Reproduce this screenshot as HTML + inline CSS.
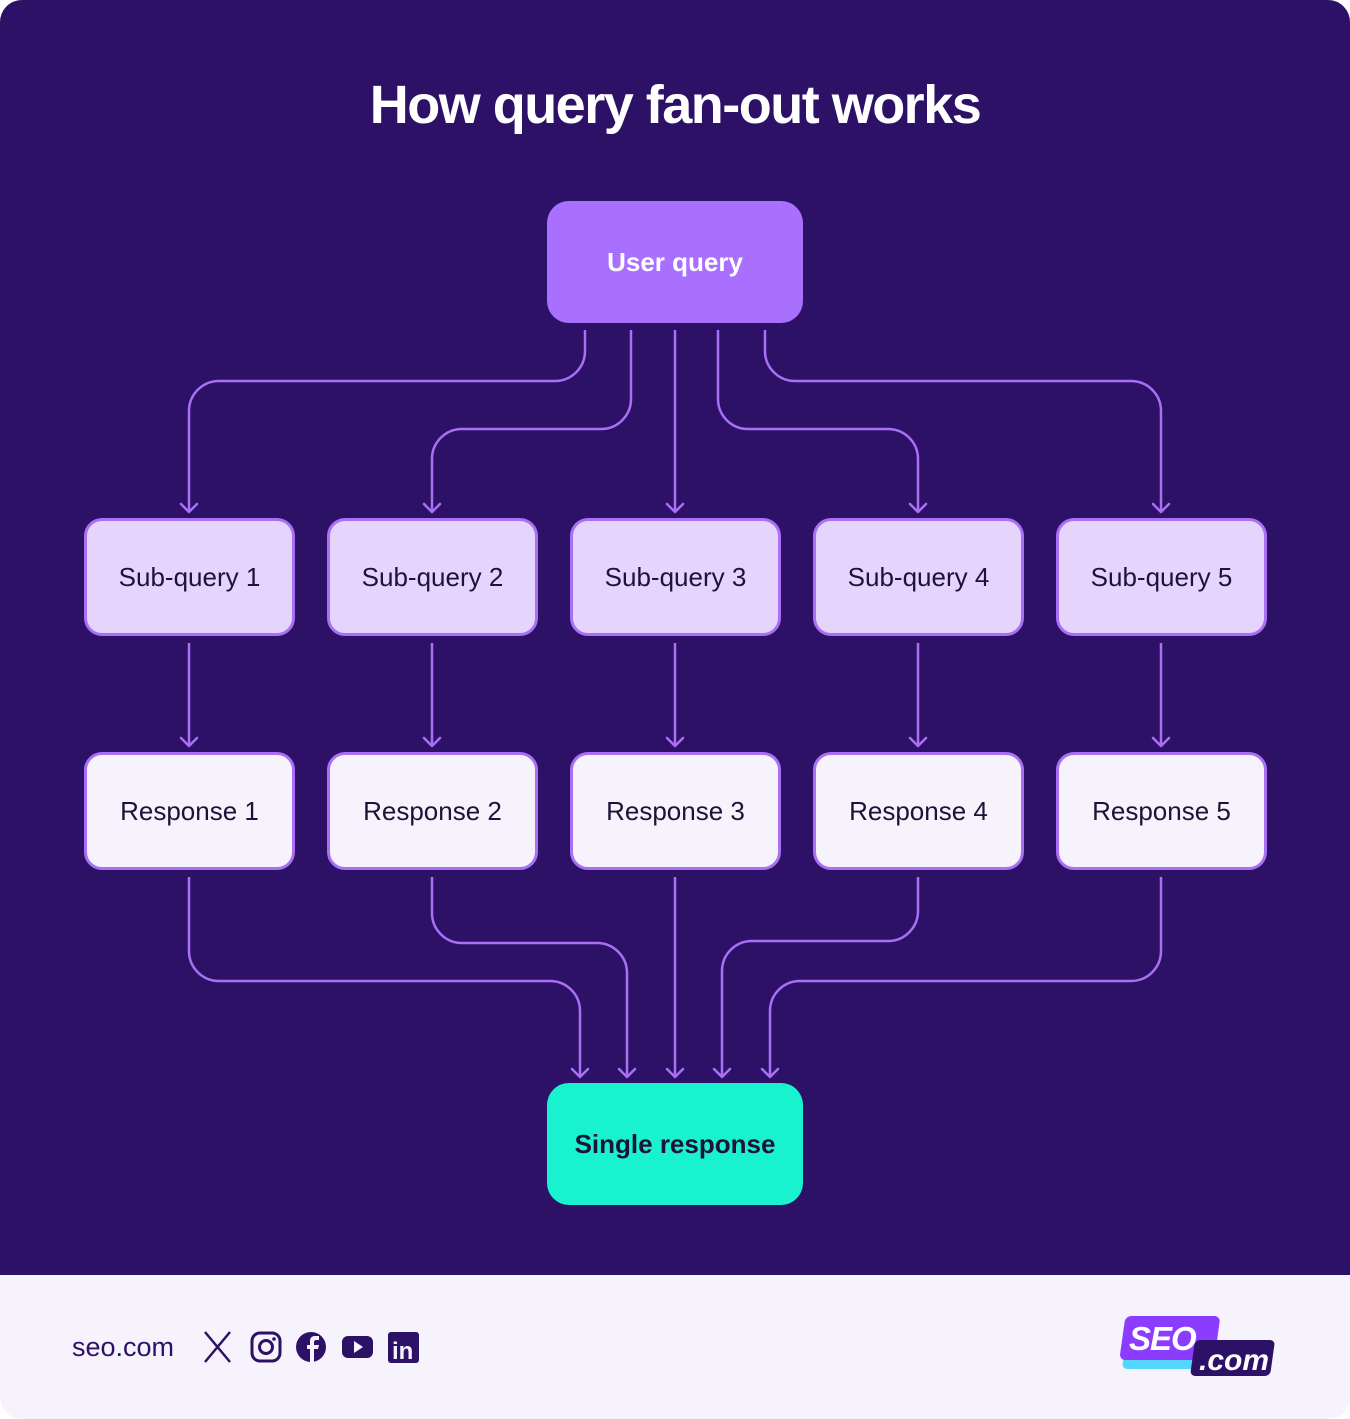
<!DOCTYPE html>
<html><head><meta charset="utf-8"><style>
html,body{margin:0;padding:0;background:#fff}
.wrap{position:relative;width:1350px;height:1419px;overflow:hidden;border-radius:22px;background:#f6f3fd;font-family:"Liberation Sans",sans-serif}
.top{position:absolute;left:0;top:0;width:1350px;height:1275px;background:#2d1166}
.t{position:absolute;left:0;width:1350px;text-align:center;top:74px;color:#fff;font-size:54px;font-weight:bold;letter-spacing:-1.5px}
.b{position:absolute;box-sizing:border-box;display:flex;align-items:center;justify-content:center;font-size:26px;color:#1d1238}
.sq{background:#e5d5fd;border:3px solid #a96ff5;border-radius:18px;width:211px;height:118px;top:518px}
.rs{background:#f6f3fd;border:3px solid #a96ff5;border-radius:18px;width:211px;height:118px;top:752px}
</style></head><body><div class="wrap">
<div class="top"></div>
<div class="t">How query fan-out works</div>
<svg style="position:absolute;left:0;top:0" width="1350" height="1419" fill="none" stroke="#a96ff5" stroke-width="2.5">
<path d="M585 330V351a30 30 0 0 1-30 30H219a30 30 0 0 0-30 30V512"/>
<path d="M631 330V399a30 30 0 0 1-30 30H462a30 30 0 0 0-30 30V512"/>
<path d="M675 330V512"/>
<path d="M718 330V399a30 30 0 0 0 30 30H888a30 30 0 0 1 30 30V512"/>
<path d="M765 330V351a30 30 0 0 0 30 30H1131a30 30 0 0 1 30 30V512"/>
<path d="M189 643V746M432 643V746M675 643V746M918 643V746M1161 643V746"/>
<path d="M189 877V951a30 30 0 0 0 30 30H550a30 30 0 0 1 30 30V1077"/>
<path d="M432 877V913a30 30 0 0 0 30 30H597a30 30 0 0 1 30 30V1077"/>
<path d="M675 877V1077"/>
<path d="M918 877V911a30 30 0 0 1-30 30H752a30 30 0 0 0-30 30V1077"/>
<path d="M1161 877V951a30 30 0 0 1-30 30H800a30 30 0 0 0-30 30V1077"/>
<g stroke-linecap="round" stroke-linejoin="round">
<path d="M181 504l8 8 8-8M424 504l8 8 8-8M667 504l8 8 8-8M910 504l8 8 8-8M1153 504l8 8 8-8"/>
<path d="M181 738l8 8 8-8M424 738l8 8 8-8M667 738l8 8 8-8M910 738l8 8 8-8M1153 738l8 8 8-8"/>
<path d="M572 1069l8 8 8-8M619 1069l8 8 8-8M667 1069l8 8 8-8M714 1069l8 8 8-8M762 1069l8 8 8-8"/>
</g>
</svg>
<div class="b" style="left:547px;top:201px;width:256px;height:122px;background:#a970ff;border-radius:22px;color:#fff;font-weight:bold;font-size:26px">User query</div>
<div class="b sq" style="left:84px">Sub-query 1</div>
<div class="b sq" style="left:327px">Sub-query 2</div>
<div class="b sq" style="left:570px">Sub-query 3</div>
<div class="b sq" style="left:813px">Sub-query 4</div>
<div class="b sq" style="left:1056px">Sub-query 5</div>
<div class="b rs" style="left:84px">Response 1</div>
<div class="b rs" style="left:327px">Response 2</div>
<div class="b rs" style="left:570px">Response 3</div>
<div class="b rs" style="left:813px">Response 4</div>
<div class="b rs" style="left:1056px">Response 5</div>
<div class="b" style="left:547px;top:1083px;width:256px;height:122px;background:#19f2cf;border-radius:22px;color:#1d1238;font-weight:bold">Single response</div>
<div style="position:absolute;left:72px;top:1332px;font-size:27px;color:#2d1166">seo.com</div>
<svg style="position:absolute;left:200px;top:1330px" width="225" height="34">
<path d="M5 2L30 32M30 2L5 32" stroke="#2d1166" stroke-width="2.5"/>
<rect x="52" y="3" width="28" height="28" rx="8" fill="none" stroke="#2d1166" stroke-width="3"/>
<circle cx="66" cy="17" r="6.5" fill="none" stroke="#2d1166" stroke-width="3"/>
<circle cx="74" cy="9" r="1.8" fill="#2d1166"/>
<circle cx="111" cy="17" r="15" fill="#2d1166"/>
<path d="M114 32V19h4l1-4h-5v-3c0-1 1-2 2-2h3V6h-4c-4 0-5 3-5 5v4h-3v4h3v13z" fill="#f6f3fd"/>
<rect x="142" y="6" width="31" height="22" rx="6" fill="#2d1166"/>
<path d="M154 11v12l9-6z" fill="#f6f3fd"/>
<rect x="188" y="2" width="31" height="31" rx="3" fill="#2d1166"/>
<text x="192" y="29" font-family="Liberation Sans" font-weight="bold" font-size="24" fill="#f6f3fd">in</text>
</svg>
<svg style="position:absolute;left:1115px;top:1312px" width="170" height="70">
<rect x="15" y="25" width="90" height="32" rx="5" fill="#55d6ff" transform="skewX(-8)"/>
<rect x="11" y="4" width="95" height="44" rx="6" fill="#8c3cff" transform="skewX(-8)"/>
<text x="14" y="38" font-family="Liberation Sans" font-weight="bold" font-style="italic" font-size="33" fill="#fff" letter-spacing="-1">SEO</text>
<rect x="84" y="28" width="80" height="36" rx="5" fill="#2d1166" transform="skewX(-8)"/>
<text x="84" y="58" font-family="Liberation Sans" font-weight="bold" font-style="italic" font-size="30" fill="#fff">.com</text>
</svg>
</div></body></html>
